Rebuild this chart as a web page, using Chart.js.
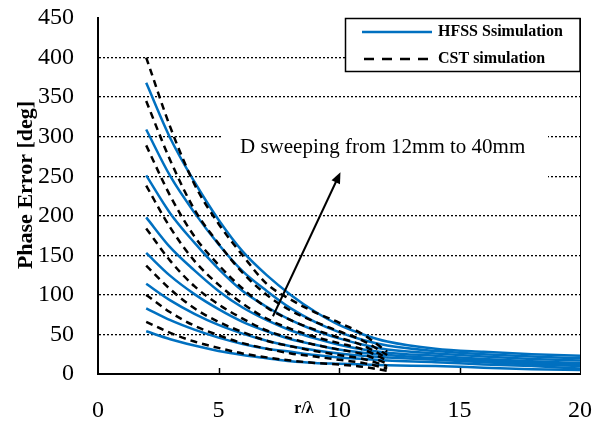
<!DOCTYPE html>
<html>
<head>
<meta charset="utf-8">
<script src="https://cdn.jsdelivr.net/npm/chart.js@4"></script>
<style>
  html, body { margin: 0; padding: 0; background: #fff; }
  #chart { display: block; }
</style>
</head>
<body>
<canvas id="chart" width="602" height="421"></canvas>
<script>
// Data (r/lambda on x, phase error in degrees on y)
const hfssR = [2, 3, 4, 5, 6, 7, 8, 9, 10, 11, 12, 14, 16, 18, 20];
const hfss1 = [368, 298, 243, 195, 155, 125, 100, 79, 62, 50, 41, 32, 28, 25, 23];
const hfss2 = [309, 250, 204, 164, 130, 105, 83, 66, 53, 43, 36, 29, 25, 22, 20];
const hfss3 = [251, 203, 166, 133, 105, 85, 68, 55, 45, 37, 31, 26, 22, 19, 17];
const hfss4 = [198, 160, 131, 105, 84, 68, 55, 45, 37, 31, 27, 23, 19, 16, 14];
const hfss5 = [153, 124, 101, 82, 66, 54, 44, 37, 31, 27, 24, 20, 17, 14, 12];
const hfss6 = [114, 93, 76, 62, 51, 42, 35, 30, 26, 23, 21, 18, 15, 12, 10];
const hfss7 = [83, 68, 56, 46, 38, 32, 28, 24, 21, 19, 17, 15, 12, 10, 7];
const hfss8 = [54, 44, 36, 29, 24, 20, 16, 14, 13, 12, 11, 10, 8, 6, 5];

const cstR = [2, 3, 4, 5, 6, 7, 8, 9, 10, 11, 12];
const cst1 = [400, 312, 240, 190, 150, 114, 94, 78, 65, 50, 28];
const cst2 = [345, 270, 208, 165, 128, 100, 80, 66, 54, 42, 24];
const cst3 = [289, 225, 174, 138, 108, 84, 68, 56, 46, 36, 20];
const cst4 = [238, 185, 143, 113, 89, 70, 57, 47, 39, 31, 17];
const cst5 = [184, 143, 111, 88, 70, 55, 45, 37, 31, 25, 13];
const cst6 = [137, 107, 83, 66, 53, 42, 35, 29, 24, 19, 10];
const cst7 = [100, 78, 61, 49, 39, 32, 26, 22, 18, 14, 7];
const cst8 = [66, 52, 41, 33, 26, 21, 17, 14, 12, 9, 4];

const xTicks = [0, 5, 10, 15, 20];
const yTicks = [0, 50, 100, 150, 200, 250, 300, 350, 400, 450];

const legendLabels = ['HFSS Ssimulation', 'CST simulation'];
const noteText = 'D sweeping from 12mm to 40mm';
const arrowFrom = { x: 7.26, y: 73 };
const arrowTo = { x: 10.06, y: 255 };

const serif = "'Liberation Serif', 'Times New Roman', serif";
const blue = '#0070C0';

function toPoints(xs, ys) {
    return ys.map((y, i) => ({ x: xs[i], y: y }));
}

const cstSets = [cst1, cst2, cst3, cst4, cst5, cst6, cst7, cst8].map(values => ({
    label: 'CST simulation',
    data: toPoints(cstR, values),
    borderColor: '#000',
    borderWidth: 2.5,
    borderDash: [7, 5],
    pointRadius: 0,
    fill: false,
    cubicInterpolationMode: 'monotone'
}));

const hfssSets = [hfss1, hfss2, hfss3, hfss4, hfss5, hfss6, hfss7, hfss8].map(values => ({
    label: 'HFSS Ssimulation',
    data: toPoints(hfssR, values),
    borderColor: blue,
    borderWidth: 2.5,
    pointRadius: 0,
    fill: false,
    cubicInterpolationMode: 'monotone'
}));

// white note box sits over the grid but under the curves
const noteBox = {
    id: 'noteBox',
    beforeDatasetsDraw(chart) {
        const ctx = chart.ctx;
        ctx.save();
        ctx.fillStyle = '#fff';
        ctx.fillRect(222, 115, 326, 70);
        ctx.restore();
    }
};

const extras = {
    id: 'extras',
    afterDraw(chart) {
        const ctx = chart.ctx;
        const x = chart.scales.x;
        const y = chart.scales.y;
        const area = chart.chartArea;
        ctx.save();

        // right border of plot area
        ctx.strokeStyle = '#000';
        ctx.lineWidth = 1;
        ctx.beginPath();
        ctx.moveTo(area.right + 0.5, area.top);
        ctx.lineTo(area.right + 0.5, area.bottom);
        ctx.stroke();

        // small x tick marks inside
        ctx.lineWidth = 1.5;
        [5, 10, 15].forEach(v => {
            const px = Math.round(x.getPixelForValue(v)) + 0.5;
            ctx.beginPath();
            ctx.moveTo(px, area.bottom);
            ctx.lineTo(px, area.bottom - 6);
            ctx.stroke();
        });

        // note text
        ctx.fillStyle = '#000';
        ctx.font = '21px ' + serif;
        ctx.textAlign = 'left';
        ctx.textBaseline = 'middle';
        ctx.fillText(noteText, 240, 147);

        // arrow
        const x0 = x.getPixelForValue(arrowFrom.x), y0 = y.getPixelForValue(arrowFrom.y);
        const x1 = x.getPixelForValue(arrowTo.x), y1 = y.getPixelForValue(arrowTo.y);
        const ang = Math.atan2(y1 - y0, x1 - x0);
        ctx.lineWidth = 2;
        ctx.beginPath();
        ctx.moveTo(x0, y0);
        ctx.lineTo(x1 - 8 * Math.cos(ang), y1 - 8 * Math.sin(ang));
        ctx.stroke();
        ctx.beginPath();
        ctx.moveTo(x1, y1);
        ctx.lineTo(x1 - 12 * Math.cos(ang - 0.4), y1 - 12 * Math.sin(ang - 0.4));
        ctx.lineTo(x1 - 12 * Math.cos(ang + 0.4), y1 - 12 * Math.sin(ang + 0.4));
        ctx.closePath();
        ctx.fill();

        // legend box
        ctx.fillStyle = '#fff';
        ctx.fillRect(345, 18, 235, 54);
        ctx.lineWidth = 1.5;
        ctx.strokeStyle = '#000';
        ctx.strokeRect(345.5, 18.5, 234.5, 53);

        ctx.lineWidth = 2.5;
        ctx.strokeStyle = blue;
        ctx.beginPath();
        ctx.moveTo(362, 32);
        ctx.lineTo(432, 32);
        ctx.stroke();
        ctx.strokeStyle = '#000';
        ctx.setLineDash([10, 8]);
        ctx.beginPath();
        ctx.moveTo(364, 59);
        ctx.lineTo(432, 59);
        ctx.stroke();
        ctx.setLineDash([]);

        ctx.fillStyle = '#000';
        ctx.font = 'bold 16px ' + serif;
        ctx.textBaseline = 'middle';
        ctx.fillText(legendLabels[0], 438, 32);
        ctx.fillText(legendLabels[1], 438, 59);

        // axis titles
        ctx.font = 'bold 16px ' + serif;
        ctx.textAlign = 'center';
        ctx.fillText('r/\u03bb', 304, 409);

        ctx.translate(26, 185);
        ctx.rotate(-Math.PI / 2);
        ctx.font = 'bold 22px ' + serif;
        ctx.fillText('Phase Error [deg]', 0, 0);

        ctx.restore();
    }
};

new Chart(document.getElementById('chart'), {
    type: 'line',
    data: { datasets: cstSets.concat(hfssSets) },
    options: {
        responsive: false,
        animation: false,
        devicePixelRatio: 1,
        layout: { padding: { top: 18, right: 22, left: 0, bottom: 0 } },
        plugins: {
            legend: { display: false },
            tooltip: { enabled: false }
        },
        scales: {
            x: {
                type: 'linear',
                min: 0,
                max: 20,
                afterBuildTicks: scale => { scale.ticks = xTicks.map(v => ({ value: v })); },
                ticks: {
                    color: '#000',
                    font: { family: serif, size: 24 },
                    padding: 14,
                    maxRotation: 0
                },
                grid: { display: false },
                border: { display: true, color: '#000', width: 2 },
                afterFit: scale => {
                    scale.height = 47;
                    scale.paddingLeft = 0;
                    scale.paddingRight = 0;
                }
            },
            y: {
                type: 'linear',
                min: 0,
                max: 450,
                afterBuildTicks: scale => { scale.ticks = yTicks.map(v => ({ value: v })); },
                ticks: {
                    color: '#000',
                    font: { family: serif, size: 24 },
                    padding: 24
                },
                grid: {
                    drawTicks: false,
                    color: ctx => (ctx.tick && (ctx.tick.value === 0 || ctx.tick.value === 450)) ? 'rgba(0,0,0,0)' : '#000',
                    lineWidth: 1.3
                },
                border: { display: true, color: '#000', width: 2, dash: [2, 2] },
                afterFit: scale => {
                    scale.width = 98;
                    scale.paddingTop = 0;
                    scale.paddingBottom = 0;
                }
            }
        }
    },
    plugins: [noteBox, extras]
});
</script>
</body>
</html>
